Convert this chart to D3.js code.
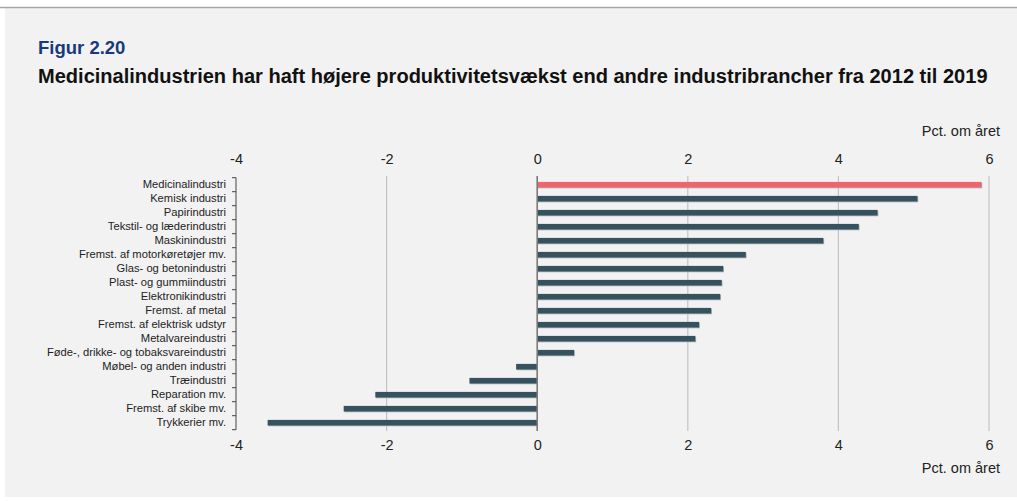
<!DOCTYPE html>
<html><head><meta charset="utf-8">
<script src="https://cdn.jsdelivr.net/npm/d3@7"></script>
<style>
html,body{margin:0;padding:0;background:#fff;}
svg{display:block;font-family:"Liberation Sans",Arial,sans-serif;}
</style></head>
<body>
<svg id="chart" width="1017" height="501"></svg>
<script>
const categories = ["Medicinalindustri","Kemisk industri","Papirindustri","Tekstil- og læderindustri","Maskinindustri","Fremst. af motorkøretøjer mv.","Glas- og betonindustri","Plast- og gummiindustri","Elektronikindustri","Fremst. af metal","Fremst. af elektrisk udstyr","Metalvareindustri","Føde-, drikke- og tobaksvareindustri","Møbel- og anden industri","Træindustri","Reparation mv.","Fremst. af skibe mv.","Trykkerier mv."];
const values = [5.9,5.05,4.52,4.27,3.8,2.77,2.47,2.45,2.43,2.31,2.15,2.1,0.49,-0.28,-0.9,-2.15,-2.57,-3.58];
const highlight = ["Medicinalindustri"];
const tickValues = [-4,-2,0,2,4,6];
const figLabel = "Figur 2.20";
const title = "Medicinalindustrien har haft højere produktivitetsvækst end andre industribrancher fra 2012 til 2019";
const unitLabel = "Pct. om året";

const svg = d3.select("#chart");
svg.append("rect").attr("x",5).attr("y",8).attr("width",1012).attr("height",489).attr("fill","#f2f2f2");
svg.append("line").attr("x1",0).attr("x2",1017).attr("y1",7.5).attr("y2",7.5).attr("stroke","#a6a6a6").attr("stroke-width",1.5);

svg.append("text").attr("x",38).attr("y",54).text(figLabel)
  .attr("font-size",18.5).attr("font-weight","bold").attr("fill","#173a7c");
const t = svg.append("text").attr("x",38).attr("y",83).text(title)
  .attr("font-size",16).attr("font-weight","bold").attr("fill","#111");
const natural = t.node().getComputedTextLength();
t.attr("font-size", 16*950/natural);

const x = d3.scaleLinear().domain([-4,6]).range([236,989]);
const y = d3.scaleBand().domain(categories).range([177.7,429.7]).paddingInner(0.6).paddingOuter(0.3);

// gridlines
const gy0 = 176, gy1 = 431;
svg.append("g").selectAll("line").data(tickValues.filter(v=>v!==0 && v!==-4)).join("line")
  .attr("x1",d=>x(d)).attr("x2",d=>x(d)).attr("y1",gy0).attr("y2",gy1)
  .attr("stroke","#c4c4c4").attr("stroke-width",1.2);

// top and bottom axes (labels only)
const fmt = d => String(d);
const axTop = d3.axisTop(x).tickValues(tickValues).tickSize(0).tickPadding(0).tickFormat(fmt);
const gTop = svg.append("g").attr("transform","translate(0,164)").call(axTop);
const axBot = d3.axisBottom(x).tickValues(tickValues).tickSize(0).tickPadding(0).tickFormat(fmt);
const gBot = svg.append("g").attr("transform","translate(0,438)").call(axBot);
[gTop,gBot].forEach(g=>{
  g.select(".domain").remove();
  g.selectAll("text").attr("font-size",14.5).attr("fill","#222").attr("font-family","Liberation Sans, Arial, sans-serif");
});
gBot.selectAll("text").attr("dy","0.8em");

svg.append("text").attr("x",1000).attr("y",136).attr("text-anchor","end").text(unitLabel)
  .attr("font-size",14.5).attr("fill","#222");
svg.append("text").attr("x",1000).attr("y",473).attr("text-anchor","end").text(unitLabel)
  .attr("font-size",14.5).attr("fill","#222");

// bars shadow + bars
const bars = svg.append("g");
bars.selectAll("rect.sh").data(categories).join("rect").attr("class","sh")
  .attr("x",(d,i)=>Math.min(x(0),x(values[i]))+0.8)
  .attr("y",d=>y(d)+0.8)
  .attr("width",(d,i)=>Math.abs(x(values[i])-x(0)))
  .attr("height",y.bandwidth())
  .attr("fill","#a9b0b5");
bars.selectAll("rect.bar").data(categories).join("rect").attr("class","bar")
  .attr("x",(d,i)=>Math.min(x(0),x(values[i])))
  .attr("y",d=>y(d))
  .attr("width",(d,i)=>Math.abs(x(values[i])-x(0)))
  .attr("height",y.bandwidth())
  .attr("fill",d=>highlight.includes(d)?"#f0656b":"#36525f");

// zero line
svg.append("line").attr("x1",x(0)).attr("x2",x(0)).attr("y1",gy0).attr("y2",gy1)
  .attr("stroke","#7a7a7a").attr("stroke-width",1.6);

// left category axis
const axL = d3.axisLeft(y).tickSize(0).tickPadding(10);
const gL = svg.append("g").attr("transform","translate(236,0)").call(axL);
gL.select(".domain").remove();
gL.selectAll("text").attr("font-size",11.2).attr("fill","#222").attr("font-family","Liberation Sans, Arial, sans-serif");
const step = y.step();
const bounds = d3.range(categories.length+1).map(i=>177.7+i*step);
svg.append("line").attr("x1",236).attr("x2",236).attr("y1",bounds[0]).attr("y2",bounds[bounds.length-1]).attr("stroke","#444").attr("stroke-width",1);
svg.append("g").selectAll("line").data(bounds).join("line")
  .attr("x1",232).attr("x2",236).attr("y1",d=>d).attr("y2",d=>d).attr("stroke","#444").attr("stroke-width",1);
</script>
</body></html>
